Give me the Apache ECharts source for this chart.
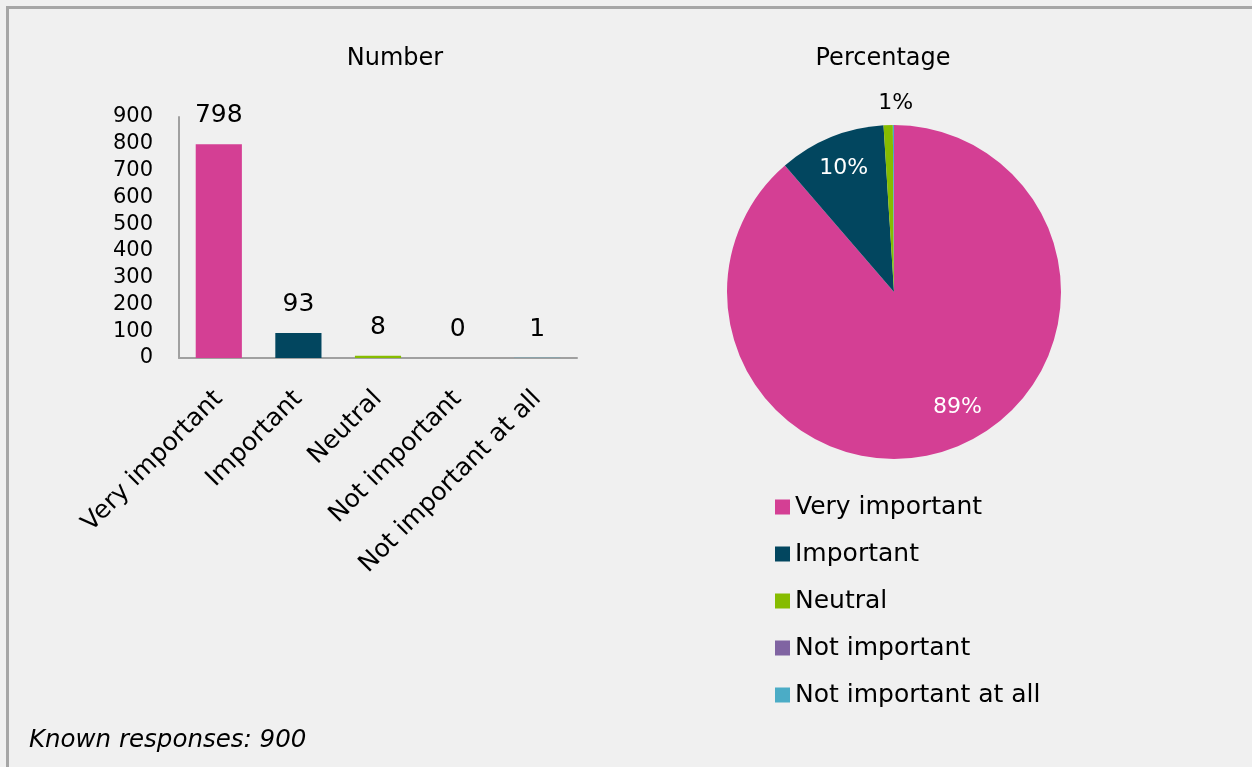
<!DOCTYPE html>
<html>
<head>
<meta charset="utf-8">
<script src="https://cdn.jsdelivr.net/npm/echarts@6/dist/echarts.min.js"></script>
<style>
  html, body { margin: 0; padding: 0; background: #f0f0f0; }
  #frame { position: absolute; left: 6px; top: 6px; width: 1246px; height: 761px;
           border-top: 3px solid #a6a6a6; border-left: 3px solid #a6a6a6; box-sizing: border-box; }
  #chart { position: absolute; left: 0; top: 0; width: 1252px; height: 767px; }
</style>
</head>
<body>
<div id="frame"></div>
<div id="chart"></div>
<script>
const categories = ['Very important', 'Important', 'Neutral', 'Not important', 'Not important at all'];
const counts = [798, 93, 8, 0, 1];
const colors = ['#d43f94', '#02465f', '#86bc00', '#8064a2', '#4bacc6'];
const yTicks = { min: 0, max: 900, interval: 100 };
const pieLabelShown = [true, true, true, false, false];
const titleNumber = 'Number';
const titlePercent = 'Percentage';
const footnote = 'Known responses: 900';

const FONT = 'DejaVu Sans';
const total = counts.reduce((a, b) => a + b, 0);
const pieCenter = [894, 292];
const pieRadius = 167;
const labelRadius = [0.77 * pieRadius, 0.78 * pieRadius, pieRadius + 19, 0, 0];
const labelAngleShift = [-0.15, 0, 0.045, 0, 0];

const chart = echarts.init(document.getElementById('chart'), null, { renderer: 'canvas' });

chart.setOption({
  backgroundColor: 'transparent',
  textStyle: { fontFamily: FONT, color: '#000' },
  animation: false,
  title: [
    { text: titleNumber, left: 390, top: 42, textAlign: 'center',
      textStyle: { fontFamily: FONT, fontSize: 24, fontWeight: 'normal', color: '#000' } },
    { text: titlePercent, left: 878, top: 42, textAlign: 'center',
      textStyle: { fontFamily: FONT, fontSize: 24, fontWeight: 'normal', color: '#000' } },
    { text: footnote, left: 24, top: 723,
      textStyle: { fontFamily: FONT, fontSize: 24.5, fontWeight: 'normal', fontStyle: 'italic', color: '#000' } }
  ],
  legend: {
    orient: 'vertical', left: 770, top: 487,
    itemWidth: 15, itemHeight: 15, itemGap: 17,
    icon: 'rect', selectedMode: false,
    data: categories,
    textStyle: { fontFamily: FONT, fontSize: 25, lineHeight: 30, color: '#000' }
  },
  grid: { left: 179, top: 117, width: 398, height: 241, containLabel: false },
  xAxis: {
    type: 'category', data: categories,
    axisLine: { show: true, lineStyle: { color: '#a0a0a0', width: 2 } },
    axisTick: { show: false },
    axisLabel: { rotate: 45, interval: 0, margin: 37, fontFamily: FONT, fontSize: 25, color: '#000' }
  },
  yAxis: {
    type: 'value', min: yTicks.min, max: yTicks.max, interval: yTicks.interval,
    axisLine: { show: true, lineStyle: { color: '#a0a0a0', width: 2 } },
    axisTick: { show: false },
    splitLine: { show: false },
    axisLabel: { margin: 26, fontFamily: FONT, fontSize: 21, color: '#000' }
  },
  series: [
    {
      type: 'bar',
      barWidth: '58%',
      data: counts.map((v, i) => ({ value: v, itemStyle: { color: colors[i] } })),
      label: { show: true, position: 'top', distance: 16, fontFamily: FONT, fontSize: 25, color: '#000' }
    },
    {
      type: 'pie',
      center: pieCenter,
      radius: pieRadius,
      startAngle: 90,
      clockwise: true,
      avoidLabelOverlap: false,
      data: categories.map((c, i) => ({
        name: c, value: counts[i],
        itemStyle: { color: colors[i] },
        label: { show: pieLabelShown[i], color: i < 2 ? '#fff' : '#000' }
      })),
      label: {
        position: 'inside', rotate: 0, fontFamily: FONT, fontSize: 22,
        formatter: p => Math.round(p.percent) + '%'
      },
      labelLine: { show: false },
      labelLayout: function (params) {
        const i = params.dataIndex;
        let start = 0;
        for (let k = 0; k < i; k++) start += counts[k];
        const mid = (start + counts[i] / 2) / total * 2 * Math.PI;
        const base = pieRadius / 2;
        const a = mid + labelAngleShift[i];
        const tx = labelRadius[i] * Math.sin(a), ty = -labelRadius[i] * Math.cos(a);
        const bx = base * Math.sin(mid), by = -base * Math.cos(mid);
        return { dx: tx - bx, dy: ty - by };
      }
    }
  ]
});
</script>
</body>
</html>
